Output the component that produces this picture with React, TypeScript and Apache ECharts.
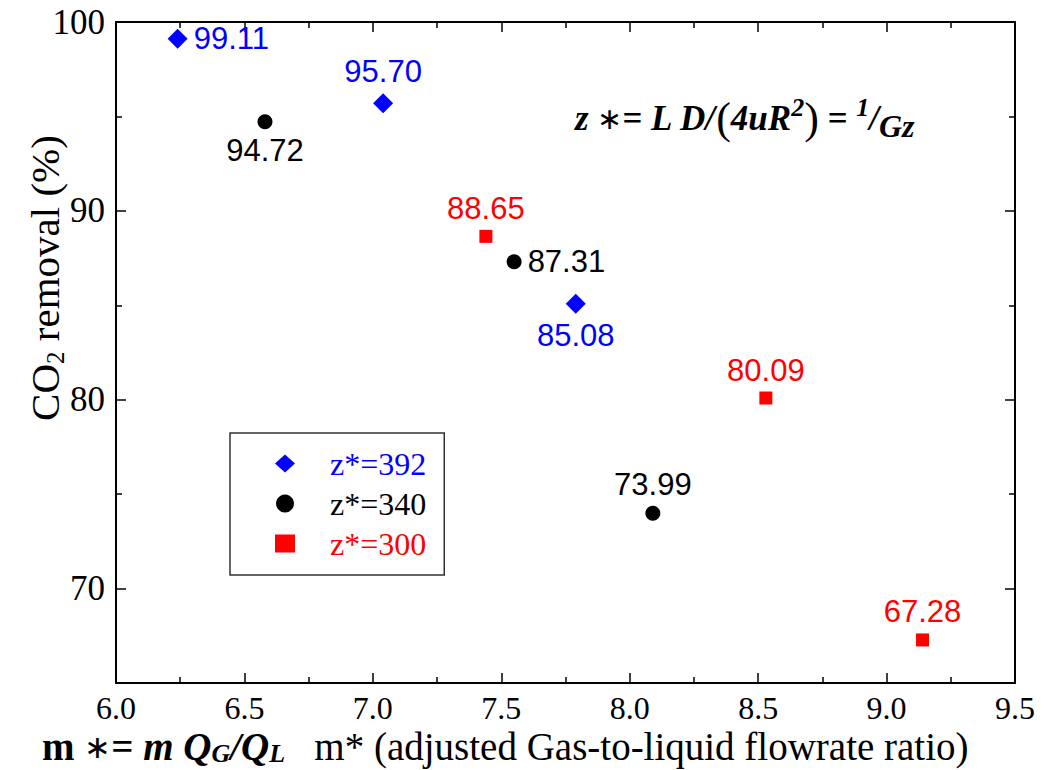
import React, { useEffect, useRef } from "react";
import * as echarts from "echarts";

// ---- data ----
const seriesNames = ["z*=392", "z*=340", "z*=300"];
const seriesColors = ["#0000FF", "#000000", "#FF0000"];
const x392 = [6.24, 7.04, 7.79];
const y392 = [99.11, 95.7, 85.08];
const x340 = [6.58, 7.55, 8.09];
const y340 = [94.72, 87.31, 73.99];
const x300 = [7.44, 8.53, 9.14];
const y300 = [88.65, 80.09, 67.28];
const xTicks = [6.0, 6.5, 7.0, 7.5, 8.0, 8.5, 9.0, 9.5];
const yTicks = [70, 80, 90, 100];
const yMinorTicks = [65, 75, 85, 95];

// label placement (layout only)
const place392 = ["right", "top", "bottom"];
const place340 = ["bottom", "right", "top"];
const place300 = ["top", "top", "top"];

const SERIF = "'Liberation Serif', 'Times New Roman', serif";
const SANS = "'Liberation Sans', Arial, sans-serif";

export default function App() {
  const ref = useRef<HTMLDivElement>(null);
  useEffect(() => {
    if (!ref.current) return;
    document.body.style.margin = "0";
    const chart = echarts.init(ref.current, null, { renderer: "svg" });

    const mk = (xs: number[], ys: number[], places: string[]) =>
      xs.map((x, i) => ({
        value: [x, ys[i]],
        label: { position: places[i] },
      }));

    const symbols = ["diamond", "circle", "rect"];
    const sizes = [20, 15, 13];
    const datas = [
      mk(x392, y392, place392),
      mk(x340, y340, place340),
      mk(x300, y300, place300),
    ];

    const axisLine = { show: true, lineStyle: { color: "#000", width: 2 } };

    const baseX = {
      type: "value",
      min: 6,
      max: 9.5,
      interval: 0.5,
      splitLine: { show: false },
      axisLine,
      axisTick: { show: true, inside: true, length: 10, lineStyle: { color: "#000", width: 1.5 } },
      minorTick: { show: true, splitNumber: 2, length: 6, lineStyle: { color: "#000", width: 1.5 } },
      minorSplitLine: { show: false },
    };

    const yBase = {
      type: "value",
      min: 65,
      max: 100,
      splitLine: { show: false },
      axisLine,
    };

    const option: any = {
      animation: false,
      backgroundColor: "#fff",
      grid: { left: 116, top: 22, right: 46, bottom: 87, containLabel: false },
      xAxis: [
        {
          ...baseX,
          position: "bottom",
          axisLabel: {
            show: true,
            color: "#000",
            fontFamily: SERIF,
            fontSize: 32,
            lineHeight: 28,
            margin: 11,
            customValues: xTicks,
            formatter: (v: number) => v.toFixed(1),
          },
        },
        {
          ...baseX,
          position: "top",
          axisLabel: { show: false },
        },
      ],
      yAxis: [
        {
          ...yBase,
          position: "left",
          axisTick: { show: true, inside: true, length: 10, customValues: yTicks, lineStyle: { color: "#000", width: 1.5 } },
          axisLabel: {
            show: true,
            color: "#000",
            fontFamily: SERIF,
            fontSize: 35,
            margin: 11,
            customValues: yTicks,
          },
        },
        {
          ...yBase,
          position: "left",
          axisLine: { show: false },
          axisTick: { show: true, inside: true, length: 6, customValues: yMinorTicks, lineStyle: { color: "#000", width: 1.5 } },
          axisLabel: { show: false },
        },
        {
          ...yBase,
          position: "right",
          axisTick: { show: true, inside: true, length: 10, customValues: yTicks, lineStyle: { color: "#000", width: 1.5 } },
          axisLabel: { show: false },
        },
        {
          ...yBase,
          position: "right",
          axisLine: { show: false },
          axisTick: { show: true, inside: true, length: 6, customValues: yMinorTicks, lineStyle: { color: "#000", width: 1.5 } },
          axisLabel: { show: false },
        },
      ],
      legend: {
        show: true,
        orient: "vertical",
        left: 230,
        top: 433,
        padding: [14, 18, 15, 45],
        itemGap: 7,
        itemWidth: 20,
        itemHeight: 18,
        borderColor: "#333",
        borderWidth: 1.5,
        backgroundColor: "#fff",
        data: seriesNames.map((n, i) => ({
          name: n,
          icon: symbols[i],
          textStyle: { color: seriesColors[i] },
        })),
        textStyle: {
          fontFamily: SERIF,
          fontSize: 32,
          lineHeight: 33,
          padding: [0, 0, 0, 30],
        },
      },
      series: seriesNames.map((n, i) => ({
        name: n,
        type: "scatter",
        xAxisIndex: 0,
        yAxisIndex: 0,
        symbol: symbols[i],
        symbolSize: sizes[i],
        itemStyle: { color: seriesColors[i], opacity: 1 },
        label: {
          show: true,
          color: seriesColors[i],
          opacity: 1,
          fontFamily: SANS,
          fontSize: 31,
          distance: 6,
          formatter: (p: any) => p.value[1].toFixed(2),
        },
        data: datas[i],
      })),
      graphic: [
        {
          type: "text",
          x: 45,
          y: 278,
          rotation: Math.PI / 2,
          style: {
            text: "{n|CO}{s|2}{n| removal (%)}",
            align: "center",
            verticalAlign: "middle",
            rich: {
              n: { fontFamily: SERIF, fontSize: 41, lineHeight: 46, fill: "#000" },
              s: { fontFamily: SERIF, fontSize: 25, lineHeight: 30, verticalAlign: "bottom", fill: "#000" },
            },
          },
        },
        {
          type: "text",
          left: 575,
          top: 94,
          style: {
            text: "{m|z }{a|∗}{m|= L D/}{p|(}{m|4uR}{sup|2}{p|)}{m| = }{sup|1}{m|/}{sub|Gz}",
            rich: {
              m: { fontFamily: SERIF, fontStyle: "italic", fontWeight: "bold", fontSize: 35, lineHeight: 48, fill: "#000" },
              a: { fontFamily: SERIF, fontSize: 30, lineHeight: 48, fill: "#000" },
              p: { fontFamily: SERIF, fontSize: 44, lineHeight: 48, fill: "#000" },
              sup: { fontFamily: SERIF, fontStyle: "italic", fontWeight: "bold", fontSize: 26, lineHeight: 28, verticalAlign: "top", fill: "#000" },
              sub: { fontFamily: SERIF, fontStyle: "italic", fontWeight: "bold", fontSize: 32, lineHeight: 32, verticalAlign: "bottom", fill: "#000" },
            },
          },
        },
        {
          type: "text",
          left: 42,
          top: 727,
          style: {
            text: "{bu|m }{a|∗}{bu|= }{bi|m Q}{bs|G}{bi|/Q}{bs|L}{n|   m* (adjusted Gas-to-liquid flowrate ratio)}",
            rich: {
              bu: { fontFamily: SERIF, fontWeight: "bold", fontSize: 39, lineHeight: 40, fill: "#000" },
              a: { fontFamily: SERIF, fontSize: 32, lineHeight: 40, fill: "#000" },
              bi: { fontFamily: SERIF, fontWeight: "bold", fontStyle: "italic", fontSize: 39, lineHeight: 40, fill: "#000" },
              bs: { fontFamily: SERIF, fontWeight: "bold", fontStyle: "italic", fontSize: 26, lineHeight: 26, verticalAlign: "bottom", fill: "#000" },
              n: { fontFamily: SERIF, fontSize: 39, lineHeight: 40, fill: "#000" },
            },
          },
        },
      ],
    };

    chart.setOption(option);
    return () => chart.dispose();
  }, []);

  return <div ref={ref} style={{ width: 1061, height: 770 }} />;
}
